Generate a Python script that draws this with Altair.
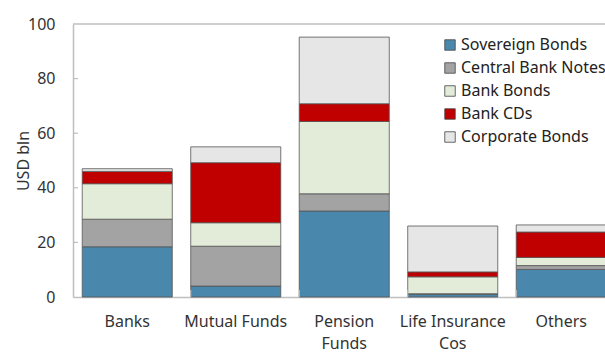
import altair as alt
import pandas as pd

categories = ["Banks", "Mutual Funds", "Pension Funds", "Life Insurance Cos", "Others"]
series = ["Sovereign Bonds", "Central Bank Notes", "Bank Bonds", "Bank CDs", "Corporate Bonds"]
sovereign = [18.4, 4.0, 31.5, 1.0, 10.1]
central_bank_notes = [10.1, 14.6, 6.3, 0.2, 1.4]
bank_bonds = [13.0, 8.6, 26.5, 6.2, 3.0]
bank_cds = [4.5, 22.0, 6.5, 1.8, 9.3]
corporate = [1.0, 5.8, 24.4, 16.8, 2.6]
y_ticks = [0, 20, 40, 60, 80, 100]
colors = ["#4a87ad", "#a3a3a3", "#e3ebd9", "#c00000", "#e6e6e6"]

values = [sovereign, central_bank_notes, bank_bonds, bank_cds, corporate]
rows = []
for si, s in enumerate(series):
    for ci, c in enumerate(categories):
        rows.append({"cat": c, "series": s, "value": values[si][ci], "order": si})
df = pd.DataFrame(rows)

label_expr = ("datum.value == 'Pension Funds' ? ['Pension','Funds'] : "
              "datum.value == 'Life Insurance Cos' ? ['Life Insurance','Cos'] : datum.value")

W = 532
H = 273
FULL = 542.5
FONT = "Noto Sans"
FS = 16

xscale = alt.Scale(domain=categories, range=[0, FULL], paddingInner=0.17, paddingOuter=0.085)
yscale = alt.Scale(domain=[0, 100], nice=False)

x = alt.X("cat:N", sort=categories, title=None, scale=xscale,
          axis=alt.Axis(labelExpr=label_expr, labelAngle=0, labelFontSize=FS, labelColor="#333333",
                        labelFont=FONT, labelPadding=16, labelLineHeight=22,
                        ticks=False, domainColor="#bfbfbf", domainWidth=1.5))

bars = alt.Chart(df).mark_bar(stroke="#555555", strokeWidth=0.8).encode(
    x=x,
    y=alt.Y("value:Q", stack="zero", title="USD bln", scale=yscale,
            axis=alt.Axis(values=y_ticks, grid=False, labelFontSize=FS,
                          labelColor="#333333", labelFont=FONT, titleFont=FONT,
                          titleFontSize=FS, titleFontWeight="normal", titleColor="#333333",
                          titlePadding=-4, domainColor="#bfbfbf", domainWidth=1.5,
                          ticks=False, labelPadding=18)),
    color=alt.Color("series:N", sort=series, scale=alt.Scale(domain=series, range=colors),
                    legend=alt.Legend(title=None, orient="none", legendX=369, legendY=13,
                                      symbolType="square", symbolSize=110, symbolStrokeColor="#444444",
                                      symbolStrokeWidth=0.8, labelFontSize=FS, labelFont=FONT,
                                      labelColor="#222222", rowPadding=7, labelLimit=300,
                                      labelOffset=3)),
    order=alt.Order("order:Q", sort="ascending"),
)

xticks = alt.Chart(pd.DataFrame({"cat": categories[1:]})).mark_rule(color="#bfbfbf", strokeWidth=1.2).encode(
    x=alt.X("cat:N", sort=categories, bandPosition=0, scale=xscale),
    y=alt.value(H - 7),
    y2=alt.value(H),
)

yticks = alt.Chart(pd.DataFrame({"v": y_ticks[1:-1]})).mark_rule(color="#bfbfbf", strokeWidth=1.2).encode(
    y=alt.Y("v:Q", scale=yscale),
    x=alt.value(0),
    x2=alt.value(5),
)

top_line = alt.Chart(pd.DataFrame({"v": [100]})).mark_rule(color="#bfbfbf", strokeWidth=1.5).encode(
    y=alt.Y("v:Q", scale=yscale),
    x=alt.value(0),
    x2=alt.value(W),
)

chart = alt.layer(bars, xticks, yticks, top_line).properties(
    width=W, height=H,
    autosize=alt.AutoSizeParams(type="none"),
    padding={"left": 73, "top": 24, "right": 0, "bottom": 55},
).configure_view(stroke=None)

chart.save("out.html", embed_options={"renderer": "svg", "actions": False})
